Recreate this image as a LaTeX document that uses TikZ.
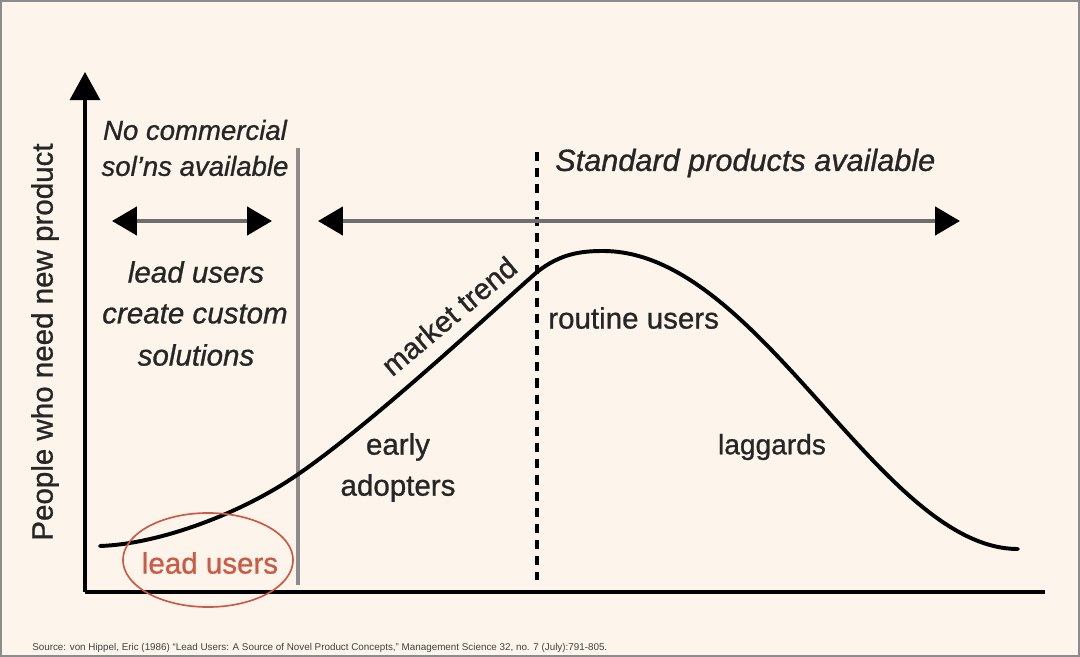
\documentclass[tikz,border=0pt]{standalone}
\usepackage{fontspec}
\setmainfont{Liberation Sans}[FakeBold=0.9]
\newfontfamily\srcfont{Liberation Sans}
\usepackage{xcolor}
\usetikzlibrary{arrows.meta, shapes.geometric}

\definecolor{paper}{HTML}{FDF5EB}
\definecolor{leadred}{HTML}{CC5A45}
\definecolor{shaft}{HTML}{6E6E6E}
\definecolor{divider}{HTML}{8C8C8C}

\tikzset{
	lbl/.style={font=\fontsize{21}{25}\selectfont, text=black!85, inner sep=0pt},
	head/.style={font=\fontsize{20.5}{25}\selectfont\itshape, text=black!85, inner sep=0pt},
	span/.style={draw=shaft, line width=2.8pt,
		{Triangle[length=0.62cm, width=0.7cm, color=black]}-{Triangle[length=0.62cm, width=0.7cm, color=black]}},
}

\begin{document}
\begin{tikzpicture}[x=0.025cm, y=-0.025cm]
	\fill[paper] (0,0) rectangle (1080,657);
	\draw[black!45, line width=1.2pt] (1,1) rectangle (1079,656);
	\useasboundingbox (0,0) rectangle (1080,657);
	
	% axes
	\coordinate (o) at (85,592);
	\coordinate (ytop) at (85,72);
	\coordinate (xend) at (1045,592);
	\draw[line width=2.2pt, -{Triangle[length=0.7cm, width=0.75cm]}] (o) -- (ytop);
	\draw[line width=2.2pt] (o) -- (xend);
	\node[lbl, rotate=90] (ylab) at (45,342) {People who need new product};
	
	% dividers
	\coordinate (g1) at (298,148);
	\coordinate (g2) at (298,585);
	\coordinate (d1) at (537,152);
	\coordinate (d2) at (537,580);
	\draw[divider, line width=2.2pt] (g1) -- (g2);
	\draw[black, line width=3pt, dash pattern=on 6.5pt off 5pt] (d1) -- (d2);
	
	% ranges
	\coordinate (la) at (112,221);
	\coordinate (lb) at (272,221);
	\coordinate (ra) at (318,221);
	\coordinate (rb) at (960,221);
	\draw[span] (la) -- (lb);
	\draw[span] (ra) -- (rb);
	
	\node[head, font=\fontsize{19.6}{25}\selectfont\itshape] (nocom) at (195,130) {No commercial};
	\node[head, font=\fontsize{19.6}{25}\selectfont\itshape] (solns) at (195,166) {sol'ns available};
	\node[head, font=\fontsize{21.8}{25}\selectfont\itshape, anchor=west] (std) at (555,163) {Standard products available};
	
	\node[lbl, font=\fontsize{21}{25}\selectfont\itshape] (lu1) at (196,272) {lead users};
	\node[lbl, font=\fontsize{21}{25}\selectfont\itshape] (lu2) at (195,314) {create custom};
	\node[lbl, font=\fontsize{21}{25}\selectfont\itshape] (lu3) at (196,355) {solutions};
	
	% adoption curve
	\coordinate (c0) at (100,546);
	\coordinate (c1) at (297,475);
	\coordinate (c2) at (537,272);
	\coordinate (peak) at (603,251);
	\coordinate (c3) at (1018,549);
	\draw[black, line width=2.8pt, line cap=round]
		(c0) .. controls (160,544) and (242,513) .. (c1)
		.. controls (370,425) and (485,318) .. (c2)
		.. controls (560,254) and (580,251) .. (peak)
		.. controls (760,251) and (880,549) .. (c3);
	
	\node[lbl, rotate=40] (trend) at (449,316) {market trend};
	\node[lbl, anchor=west] (routine) at (548,318) {routine users};
	\node[lbl] (early) at (398,447) {early};
	\node[lbl] (adopt) at (398,488) {adopters};
	\node[lbl, font=\fontsize{20}{24}\selectfont] (lag) at (772,447) {laggards};
	
	% lead users
	\node[lbl, text=leadred] (lead) at (210,563) {lead users};
	\node[draw=leadred, line width=1.2pt, ellipse, inner sep=0pt,
		minimum width=4.25cm, minimum height=2.35cm] (ring) at (208,560) {};
	
	\node[anchor=west, inner sep=0pt, font=\srcfont\fontsize{7}{8}\selectfont, text=black!75] (src) at (32,648)
		{Source: von Hippel, Eric (1986) “Lead Users: A Source of Novel Product Concepts,” Management Science 32, no. 7 (July):791-805.};
\end{tikzpicture}
\end{document}
